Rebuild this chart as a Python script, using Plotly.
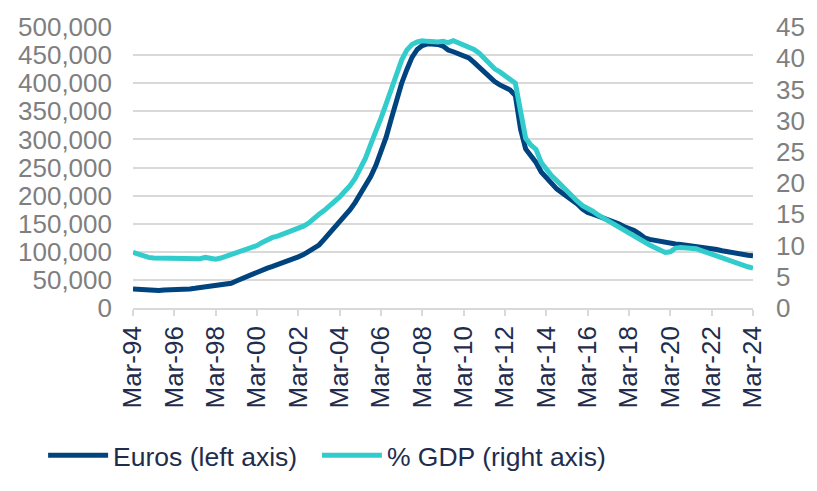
import pandas as pd
import plotly.graph_objects as go

# Quarterly observations, Mar-94 to Mar-24 (end of quarter)
quarters = pd.date_range("1994-03-31", "2024-03-31", freq="QE")

# Outstanding amount, thousands of euros (left axis)
euros_k = [
    34, 33, 32, 31,        # 1994
    31, 31, 32, 32,        # 1995
    32, 33, 33, 34,        # 1996
    35, 36, 37, 38,        # 1997
    39, 40, 42, 44,        # 1998
    48, 52, 57, 61,        # 1999
    64, 68, 71, 74,        # 2000
    77, 80, 83, 87,        # 2001
    91, 95, 100, 106,      # 2002
    112, 122, 132, 142,    # 2003
    152, 163, 175, 188,    # 2004
    203, 220, 234, 254,    # 2005
    277, 304, 337, 372,    # 2006
    400, 424, 446, 460,    # 2007
    467, 470, 470, 469,    # 2008
    466, 459, 456, 453,    # 2009
    449, 445, 437, 428,    # 2010
    419, 411, 403, 397,    # 2011
    393, 388, 378, 318,    # 2012
    283, 271, 259, 242,    # 2013
    231, 220, 212, 205,    # 2014
    199, 193, 185, 176,    # 2015
    170, 167, 164, 161,    # 2016
    158, 154, 150, 145,    # 2017
    142, 138, 132, 125,    # 2018
    122, 120, 118, 116,    # 2019
    114, 114, 113, 112,    # 2020
    110, 108, 107, 106,    # 2021
    105, 104, 102, 100,    # 2022
    98, 97, 96, 94,        # 2023
    93,                    # 2024
]
euros = [v * 1000 for v in euros_k]

# Same stock as a share of GDP, % (right axis)
pct_gdp = [
    8.9, 8.6, 8.3, 8.1,      # 1994
    8.0, 8.0, 7.9, 7.9,      # 1995
    7.8, 7.8, 7.8, 7.8,      # 1996
    7.9, 7.9, 8.1, 8.0,      # 1997
    7.8, 8.0, 8.3, 8.5,      # 1998
    8.7, 9.0, 9.4, 9.7,      # 1999
    10.0, 10.5, 11.0, 11.3,  # 2000
    11.5, 11.8, 12.1, 12.5,  # 2001
    12.8, 13.1, 13.6, 14.4,  # 2002
    15.0, 15.6, 16.3, 17.1,  # 2003
    17.8, 18.7, 19.6, 20.8,  # 2004
    22.3, 24.0, 26.2, 28.2,  # 2005
    30.4, 32.7, 35.2, 37.7,  # 2006
    39.7, 41.3, 42.2, 42.6,  # 2007
    42.8, 42.7, 42.6, 42.6,  # 2008
    42.7, 42.5, 42.8, 42.5,  # 2009
    42.2, 41.9, 41.4, 40.8,  # 2010
    40.0, 39.2, 38.3, 37.8,  # 2011
    37.2, 36.6, 36.0, 31.5,  # 2012
    27.2, 26.1, 25.4, 23.3,  # 2013
    22.2, 21.2, 20.4, 19.5,  # 2014
    18.8, 17.9, 17.1, 16.4,  # 2015
    16.0, 15.5, 14.9, 14.4,  # 2016
    14.0, 13.6, 13.1, 12.4,  # 2017
    12.0, 11.5, 11.0, 10.5,  # 2018
    10.1, 9.7, 9.4, 8.9,     # 2019
    9.0, 9.6, 9.7, 9.7,      # 2020
    9.7, 9.5, 9.2, 8.9,      # 2021
    8.5, 8.3, 8.0, 7.7,      # 2022
    7.3, 7.1, 6.8, 6.6,      # 2023
    6.4,                     # 2024
]

# Axis ticks every two years, labelled "Mar-YY"
tick_dates = [d + pd.offsets.MonthEnd(0)
              for d in pd.date_range("1994-03-01", "2024-03-01", freq="12MS")][::2]
tick_labels = [d.strftime("Mar-%y") for d in tick_dates]

NAVY = "#00447F"
TEAL = "#33CCCC"
GRID = "#D9D9D9"
FONT = "Liberation Sans, Arial, sans-serif"

fig = go.Figure()
fig.add_trace(go.Scatter(
    x=quarters, y=euros, name="Euros (left axis)\u00a0\u00a0", mode="lines",
    line=dict(color=NAVY, width=5), yaxis="y",
))
fig.add_trace(go.Scatter(
    x=quarters, y=pct_gdp, name="% GDP (right axis)", mode="lines",
    line=dict(color=TEAL, width=5), yaxis="y2",
))

fig.update_layout(
    width=817, height=491,
    margin=dict(l=133, r=60, t=22, b=176),
    paper_bgcolor="white", plot_bgcolor="white",
    font=dict(family=FONT, size=26, color="#7F7F7F"),
    showlegend=True,
    legend=dict(
        orientation="h", x=-0.145, xanchor="left", y=-0.525, yanchor="middle",
        font=dict(family=FONT, size=26.5, color="#1F2D4D"),
        itemwidth=60, tracegroupgap=0, bgcolor="rgba(0,0,0,0)",
    ),
    xaxis=dict(
        type="date",
        range=[tick_dates[0], tick_dates[-1]],
        tickvals=tick_dates, ticktext=tick_labels, tickangle=-90,
        tickfont=dict(family=FONT, size=26, color="#1F2D4D"),
        showgrid=False, showline=True, linecolor=GRID, linewidth=1.5,
        ticks="outside", ticklen=6, tickcolor=GRID, tickwidth=1.5,
        zeroline=False,
    ),
    yaxis=dict(
        range=[0, 500000], dtick=50000, tickformat=",d",
        showgrid=True, gridcolor=GRID, gridwidth=1.5,
        zeroline=False, showline=False, ticks="",
        ticklabelstandoff=20,
        tickfont=dict(family=FONT, size=26, color="#7F7F7F"),
    ),
    yaxis2=dict(
        range=[0, 45], dtick=5, overlaying="y", side="right",
        showgrid=False, zeroline=False, showline=False, ticks="",
        ticklabelstandoff=22,
        tickfont=dict(family=FONT, size=26, color="#7F7F7F"),
    ),
)

fig.write_html("out.html")
